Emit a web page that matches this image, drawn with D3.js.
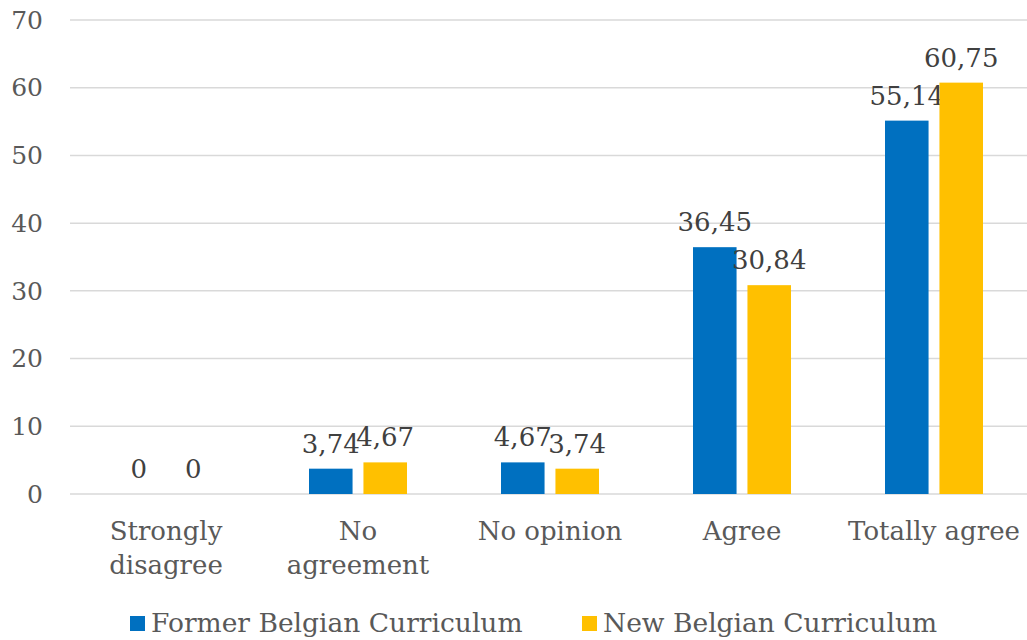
<!DOCTYPE html>
<html>
<head>
<meta charset="utf-8">
<script src="https://cdn.jsdelivr.net/npm/d3@7"></script>
<style>
  body { margin: 0; background: #fff; }
  svg text { font-family: "DejaVu Serif", serif; }
</style>
</head>
<body>
<div id="chart"></div>
<script>
// Agreement levels — former vs new Belgian curriculum (%)
const CATEGORIES = [["Strongly", "disagree"], ["No", "agreement"], ["No opinion"], ["Agree"], ["Totally agree"]];
const FORMER = [0, 3.74, 4.67, 36.45, 55.14];
const NEW_CUR = [0, 4.67, 3.74, 30.84, 60.75];
const SERIES = ["Former Belgian Curriculum", "New Belgian Curriculum"];
const Y_TICKS = [0, 10, 20, 30, 40, 50, 60, 70];

(function () {
  const W = 1027, H = 640;
  const MARGIN = { top: 20, right: -3, bottom: 146, left: 70 };
  const iW = W - MARGIN.left - MARGIN.right;
  const iH = H - MARGIN.top - MARGIN.bottom;
  const COLORS = ["#0070C0", "#FFC000"];
  const FS = 26;

  const svg = d3.select("#chart").append("svg")
    .attr("width", W).attr("height", H).attr("viewBox", `0 0 ${W} ${H}`);
  const g = svg.append("g").attr("transform", `translate(${MARGIN.left},${MARGIN.top})`);

  const idx = CATEGORIES.map((_, i) => i);
  const x = d3.scaleBand().domain(idx).range([0, iW]);
  const x1 = d3.scaleBand().domain([0, 1]).range([x.bandwidth() / 2 - 49, x.bandwidth() / 2 + 49]).paddingInner(0.2);
  const y = d3.scaleLinear().domain([0, 70]).range([iH, 0]);

  // Grid
  g.append("g").selectAll("line").data(Y_TICKS).join("line")
    .attr("x1", 0).attr("x2", iW).attr("y1", d => y(d)).attr("y2", d => y(d))
    .attr("stroke", "#D9D9D9").attr("stroke-width", 1.5);

  // Y axis labels
  g.append("g").selectAll("text").data(Y_TICKS).join("text")
    .attr("x", -27).attr("y", d => y(d)).attr("dy", "0.35em")
    .attr("text-anchor", "end").attr("font-size", 25).attr("fill", "#595959")
    .text(d => d);

  // Bars
  const series = [FORMER, NEW_CUR];
  series.forEach((vals, s) => {
    const grp = g.append("g");
    grp.selectAll("rect").data(vals).join("rect")
      .attr("x", (d, i) => x(i) + x1(s)).attr("width", x1.bandwidth())
      .attr("y", d => y(d)).attr("height", d => iH - y(d))
      .attr("fill", COLORS[s]);
    grp.selectAll("text").data(vals).join("text")
      .attr("x", (d, i) => x(i) + x1(s) + x1.bandwidth() / 2)
      .attr("y", d => y(d) - 16)
      .attr("text-anchor", "middle").attr("font-size", FS).attr("fill", "#404040")
      .text(d => String(d).replace(".", ","));
  });

  // Category labels
  const cat = g.append("g").selectAll("text").data(CATEGORIES).join("text")
    .attr("text-anchor", "middle").attr("font-size", FS).attr("fill", "#595959")
    .attr("transform", (d, i) => `translate(${x(i) + x.bandwidth() / 2},${iH + 46})`);
  cat.selectAll("tspan").data(d => d).join("tspan")
    .attr("x", 0).attr("y", (d, i) => i * 34).text(d => d);

  // Legend
  const legX = [130, 582];
  SERIES.forEach((name, s) => {
    svg.append("rect").attr("x", legX[s]).attr("y", 616)
      .attr("width", 15).attr("height", 15).attr("fill", COLORS[s]);
    svg.append("text").attr("x", legX[s] + 21).attr("y", 632)
      .attr("font-size", 26.5).attr("fill", "#595959").text(name);
  });
})();
</script>
</body>
</html>
